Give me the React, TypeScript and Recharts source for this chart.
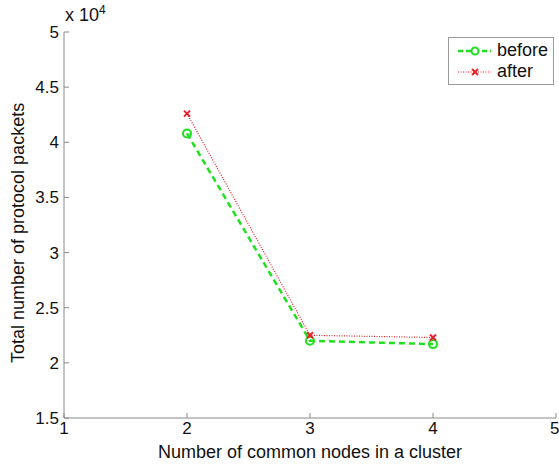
import { LineChart, Line, XAxis, YAxis } from 'recharts'

const clusterNodes = [2, 3, 4]
const packetsBefore = [40800, 22000, 21700]
const packetsAfter = [42600, 22500, 22300]
const xTicks = [1, 2, 3, 4, 5]
const yTicks = [15000, 20000, 25000, 30000, 35000, 40000, 45000, 50000]

const data = clusterNodes.map((n, i) => ({
  n,
  before: packetsBefore[i],
  after: packetsAfter[i],
}))

const FONT = '"Liberation Sans", Arial, sans-serif'
const GREEN = '#1fe01f'
const RED = '#e8202a'

const CircleDot = (props: any) => {
  const { cx, cy } = props
  if (cx == null || cy == null) return null
  return <circle cx={cx} cy={cy} r={4} fill="none" stroke={GREEN} strokeWidth={2} />
}

const CrossDot = (props: any) => {
  const { cx, cy } = props
  if (cx == null || cy == null) return null
  const s = 3
  return (
    <g stroke={RED} strokeWidth={2}>
      <line x1={cx - s} y1={cy - s} x2={cx + s} y2={cy + s} />
      <line x1={cx - s} y1={cy + s} x2={cx + s} y2={cy - s} />
    </g>
  )
}

// legend box like matlab's, drawn over the chart
const LegendBox = () => (
  <div style={{ position: 'absolute', left: 448, top: 37, width: 106, height: 48, border: '1px solid #999', background: '#fff', fontFamily: FONT, fontSize: 18, color: '#111', boxSizing: 'border-box', paddingTop: 2 }}>
    <div style={{ display: 'flex', alignItems: 'center', height: 21 }}>
      <svg width={44} height={12} style={{ marginLeft: 4 }}>
        <line x1={5} y1={6} x2={38} y2={6} stroke={GREEN} strokeWidth={2.5} strokeDasharray="5 3" />
        <circle cx={22} cy={6} r={3.5} fill="#fff" stroke={GREEN} strokeWidth={2} />
      </svg>
      <span>before</span>
    </div>
    <div style={{ display: 'flex', alignItems: 'center', height: 21 }}>
      <svg width={44} height={12} style={{ marginLeft: 4 }}>
        <line x1={5} y1={6} x2={38} y2={6} stroke={RED} strokeWidth={1} strokeDasharray="1 1.5" />
        <line x1={19} y1={3} x2={25} y2={9} stroke={RED} strokeWidth={2} />
        <line x1={19} y1={9} x2={25} y2={3} stroke={RED} strokeWidth={2} />
      </svg>
      <span>after</span>
    </div>
  </div>
)

export default function App() {
  return (
    <div style={{ position: 'relative', width: 559, height: 466, background: '#fff' }}>
      <style>{`body{margin:0}`}</style>
      <LineChart width={559} height={466} data={data} margin={{ top: 32, right: 3, bottom: 0, left: 0 }}>
        <XAxis
          dataKey="n"
          type="number"
          domain={[1, 5]}
          ticks={xTicks}
          height={48}
          stroke="#8a8a8a"
          tickSize={-5}
          tickMargin={9}
          tick={{ fill: '#111', fontSize: 17, fontFamily: FONT }}
          label={{ value: 'Number of common nodes in a cluster', position: 'insideBottom', offset: 8, fill: '#111', fontSize: 18, fontFamily: FONT }}
        />
        <YAxis
          type="number"
          domain={[15000, 50000]}
          ticks={yTicks}
          width={64}
          stroke="#8a8a8a"
          tickSize={-5}
          tickMargin={10}
          tickFormatter={(v: number) => String(v / 10000)}
          tick={{ fill: '#111', fontSize: 17, fontFamily: FONT }}
          label={{ value: 'Total number of protocol packets', angle: -90, position: 'insideLeft', offset: 18, dy: 138, fill: '#111', fontSize: 18, fontFamily: FONT }}
        />
        <Line dataKey="before" stroke={GREEN} strokeWidth={2.5} strokeDasharray="6 4" dot={<CircleDot />} isAnimationActive={false} />
        <Line dataKey="after" stroke={RED} strokeWidth={1.2} strokeDasharray="1 1.5" dot={<CrossDot />} isAnimationActive={false} />
      </LineChart>
      <LegendBox />
      <div style={{ position: 'absolute', left: 65, top: 3, fontFamily: FONT, fontSize: 18, color: '#111' }}>
        x 10<sup style={{ fontSize: 12 }}>4</sup>
      </div>
    </div>
  )
}
